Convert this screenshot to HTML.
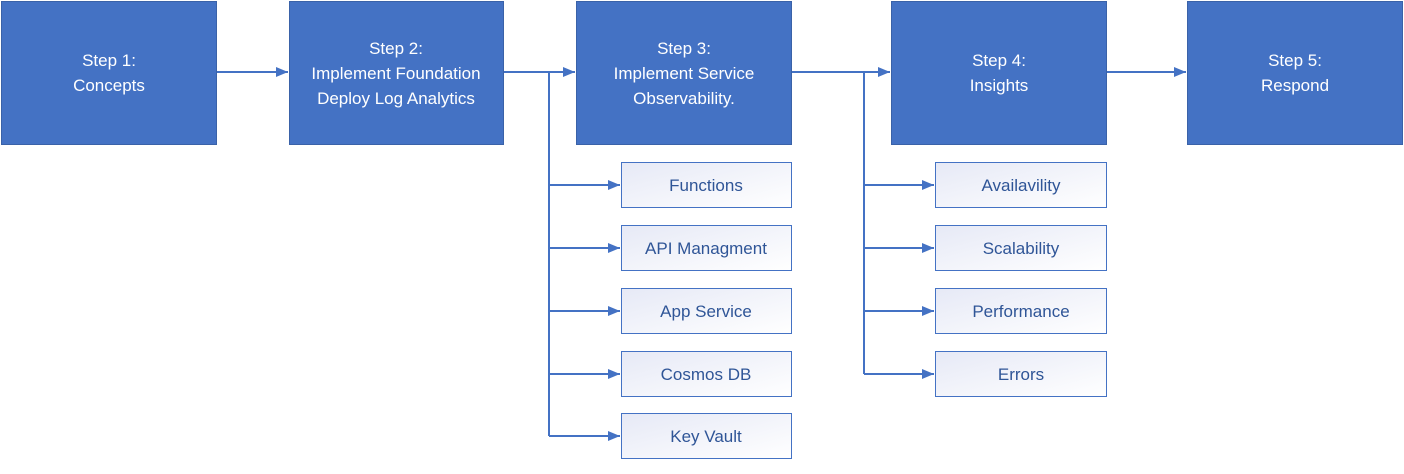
<!DOCTYPE html>
<html><head><meta charset="utf-8"><style>html,body{margin:0;padding:0;background:#fff}svg{display:block}</style></head>
<body>
<svg width="1404" height="474" viewBox="0 0 1404 474" xmlns="http://www.w3.org/2000/svg" font-family="Liberation Sans, sans-serif">
<defs>
<linearGradient id="g" x1="0" y1="0" x2="1" y2="1"><stop offset="0" stop-color="#e6e9f6"/><stop offset="1" stop-color="#ffffff"/></linearGradient>
<marker id="a" markerWidth="12" markerHeight="10" refX="12" refY="5" orient="auto" markerUnits="userSpaceOnUse"><path d="M0,0 L12,5 L0,10 z" fill="#4472C4"/></marker>
</defs>
<g fill="#4472C4" stroke="#3a62a8" stroke-width="1">
<rect x="1.5" y="1.5" width="215" height="143"/>
<rect x="289.5" y="1.5" width="214" height="143"/>
<rect x="576.5" y="1.5" width="215" height="143"/>
<rect x="891.5" y="1.5" width="215" height="143"/>
<rect x="1187.5" y="1.5" width="215" height="143"/>
</g>
<g fill="#fff" font-size="17" text-anchor="middle">
<text x="109" y="66">Step 1:</text><text x="109" y="91">Concepts</text>
<text x="396" y="54">Step 2:</text><text x="396" y="79">Implement Foundation</text><text x="396" y="104">Deploy Log Analytics</text>
<text x="684" y="54">Step 3:</text><text x="684" y="79">Implement Service</text><text x="684" y="104">Observability.</text>
<text x="999" y="66">Step 4:</text><text x="999" y="91">Insights</text>
<text x="1295" y="66">Step 5:</text><text x="1295" y="91">Respond</text>
</g>
<g stroke="#4472C4" stroke-width="2" fill="none">
<line x1="217" y1="72" x2="288" y2="72" marker-end="url(#a)"/>
<line x1="504" y1="72" x2="575" y2="72" marker-end="url(#a)"/>
<line x1="549" y1="72" x2="549" y2="436"/>
<line x1="549" y1="185" x2="620" y2="185" marker-end="url(#a)"/>
<line x1="549" y1="248" x2="620" y2="248" marker-end="url(#a)"/>
<line x1="549" y1="311" x2="620" y2="311" marker-end="url(#a)"/>
<line x1="549" y1="374" x2="620" y2="374" marker-end="url(#a)"/>
<line x1="549" y1="436" x2="620" y2="436" marker-end="url(#a)"/>
<line x1="792" y1="72" x2="890" y2="72" marker-end="url(#a)"/>
<line x1="864" y1="72" x2="864" y2="374"/>
<line x1="864" y1="185" x2="934" y2="185" marker-end="url(#a)"/>
<line x1="864" y1="248" x2="934" y2="248" marker-end="url(#a)"/>
<line x1="864" y1="311" x2="934" y2="311" marker-end="url(#a)"/>
<line x1="864" y1="374" x2="934" y2="374" marker-end="url(#a)"/>
<line x1="1107" y1="72" x2="1186" y2="72" marker-end="url(#a)"/>
</g>
<g fill="url(#g)" stroke="#4472C4" stroke-width="1">
<rect x="621.5" y="162.5" width="170" height="45"/>
<rect x="621.5" y="225.5" width="170" height="45"/>
<rect x="621.5" y="288.5" width="170" height="45"/>
<rect x="621.5" y="351.5" width="170" height="45"/>
<rect x="621.5" y="413.5" width="170" height="45"/>
<rect x="935.5" y="162.5" width="171" height="45"/>
<rect x="935.5" y="225.5" width="171" height="45"/>
<rect x="935.5" y="288.5" width="171" height="45"/>
<rect x="935.5" y="351.5" width="171" height="45"/>
</g>
<g fill="#2f5597" font-size="17" text-anchor="middle">
<text x="706" y="191">Functions</text>
<text x="706" y="254">API Managment</text>
<text x="706" y="317">App Service</text>
<text x="706" y="380">Cosmos DB</text>
<text x="706" y="442">Key Vault</text>
<text x="1021" y="191">Availavility</text>
<text x="1021" y="254">Scalability</text>
<text x="1021" y="317">Performance</text>
<text x="1021" y="380">Errors</text>
</g>
</svg>
</body></html>
